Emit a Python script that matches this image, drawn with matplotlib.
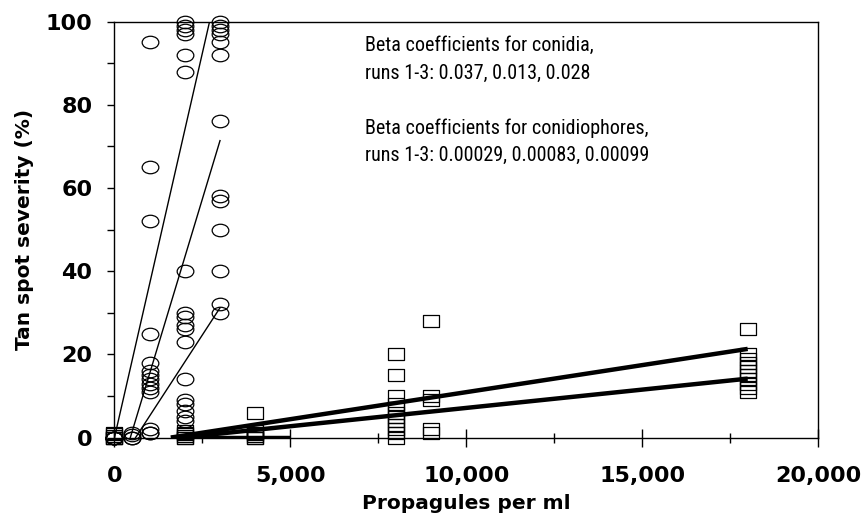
import numpy as np
import matplotlib
matplotlib.use('Agg')
import matplotlib.pyplot as plt
from matplotlib import font_manager
from matplotlib.path import Path
from matplotlib.ticker import MultipleLocator, FuncFormatter

# conidia (circles): severity readings at each dose
conidia_doses = [0, 500, 1000, 2000, 3000]
conidia_sev = [
    [0, 0, 0, 0, 0],
    [0, 0.5, 1, 0],
    [95, 65, 52, 25, 18, 16, 15, 14, 13, 12, 11, 2, 1, 1],
    [100, 99, 98, 97, 92, 88, 40, 30, 29, 27, 26, 23, 14, 9, 8, 6.5, 5, 4],
    [100, 99, 98, 97, 95, 92, 76, 58, 57, 50, 40, 32, 30],
]

# conidiophores (squares)
cphore_doses = [0, 2000, 4000, 8000, 9000, 18000]
cphore_sev = [
    [0, 0, 0, 0.4, 0.8, 1.2],
    [0, 0, 0.4, 0.8, 1.2, 1.6],
    [6, 1.6, 1.2, 0.8, 0.4, 0, 0],
    [20, 15, 10, 8, 7, 6, 5, 4, 3, 2, 1, 0],
    [28, 10, 9, 2, 1],
    [26, 20, 19, 18, 17, 16, 15, 14, 13, 12, 11],
]

# fitted lines: slope, x where line leaves 0, x end
con_slope = [0.037, 0.028, 0.013]
con_x0 = [0, 450, 600]
con_xend = [3000, 3000, 3000]

cp_slope = [0.0013, 0.00088, 0.0]
cp_x0 = [1600, 1900, 1600]
cp_xend = [18000, 18000, 5000]

note_conidia = 'Beta coefficients for conidia,\nruns 1-3: 0.037, 0.013, 0.028'
note_cphore = 'Beta coefficients for conidiophores,\nruns 1-3: 0.00029, 0.00083, 0.00099'

# narrow font for the notes if there is one, else plain Liberation Sans smaller
note_font, note_size = 'Liberation Sans', 12.5
for fam in ['Liberation Sans Narrow', 'DejaVu Sans Condensed', 'Roboto Condensed']:
    try:
        font_manager.findfont(fam, fallback_to_default=False)
        note_font, note_size = fam, 14.5
        break
    except ValueError:
        pass

# flattened marker shapes (wider than tall)
circ = Path.unit_circle()
ellipse = Path(circ.vertices * [1.0, 0.75], circ.codes)
rect = Path([(-1, -0.75), (1, -0.75), (1, 0.75), (-1, 0.75), (-1, -0.75)],
            [Path.MOVETO, Path.LINETO, Path.LINETO, Path.LINETO, Path.CLOSEPOLY])

fig = plt.figure(figsize=(8.64, 5.16), dpi=100)
ax = fig.add_axes([0.1325, 0.152, 0.8143, 0.806])

for d, vals in zip(conidia_doses, conidia_sev):
    ax.plot([d] * len(vals), vals, ls='none', marker=ellipse, ms=12,
            mfc='none', mec='black', mew=0.9, clip_on=False, zorder=3)

for d, vals in zip(cphore_doses, cphore_sev):
    ax.plot([d] * len(vals), vals, ls='none', marker=rect, ms=11.5,
            mfc='none', mec='black', mew=0.9, clip_on=False, zorder=3)

for b, x0, x1 in zip(con_slope, con_x0, con_xend):
    ax.plot([x0, x1], [0, b * (x1 - x0)], color='black', lw=1.0, zorder=4)

for b, x0, x1 in zip(cp_slope, cp_x0, cp_xend):
    ax.plot([x0, x1], [0, b * (x1 - x0)], color='black', lw=3.2,
            solid_capstyle='butt', zorder=4)

ax.set_xlim(0, 20000)
ax.set_ylim(0, 100)

ax.xaxis.set_major_locator(MultipleLocator(5000))
ax.xaxis.set_minor_locator(MultipleLocator(2500))
ax.xaxis.set_major_formatter(FuncFormatter(lambda v, p: f'{int(v):,}'))
ax.yaxis.set_major_locator(MultipleLocator(20))
ax.yaxis.set_minor_locator(MultipleLocator(10))

ax.tick_params(axis='x', which='major', direction='inout', length=13, width=1, pad=14)
ax.tick_params(axis='x', which='minor', direction='inout', length=7, width=1)
ax.tick_params(axis='y', which='both', direction='out', length=5, width=1, pad=11)
for lab in ax.get_xticklabels() + ax.get_yticklabels():
    lab.set_fontsize(16)
    lab.set_fontweight('bold')

for s in ax.spines.values():
    s.set_linewidth(1.0)

ax.set_xlabel('Propagules per ml', fontsize=14.5, fontweight='bold', labelpad=6)
ax.set_ylabel('Tan spot severity (%)', fontsize=14.5, fontweight='bold', labelpad=8)

ax.text(0.356, 0.965, note_conidia, transform=ax.transAxes, va='top', ha='left',
        fontsize=note_size, family=[note_font, 'DejaVu Sans'], linespacing=1.55)
ax.text(0.356, 0.768, note_cphore, transform=ax.transAxes, va='top', ha='left',
        fontsize=note_size, family=[note_font, 'DejaVu Sans'], linespacing=1.55)

fig.savefig('out.png', dpi=100)
